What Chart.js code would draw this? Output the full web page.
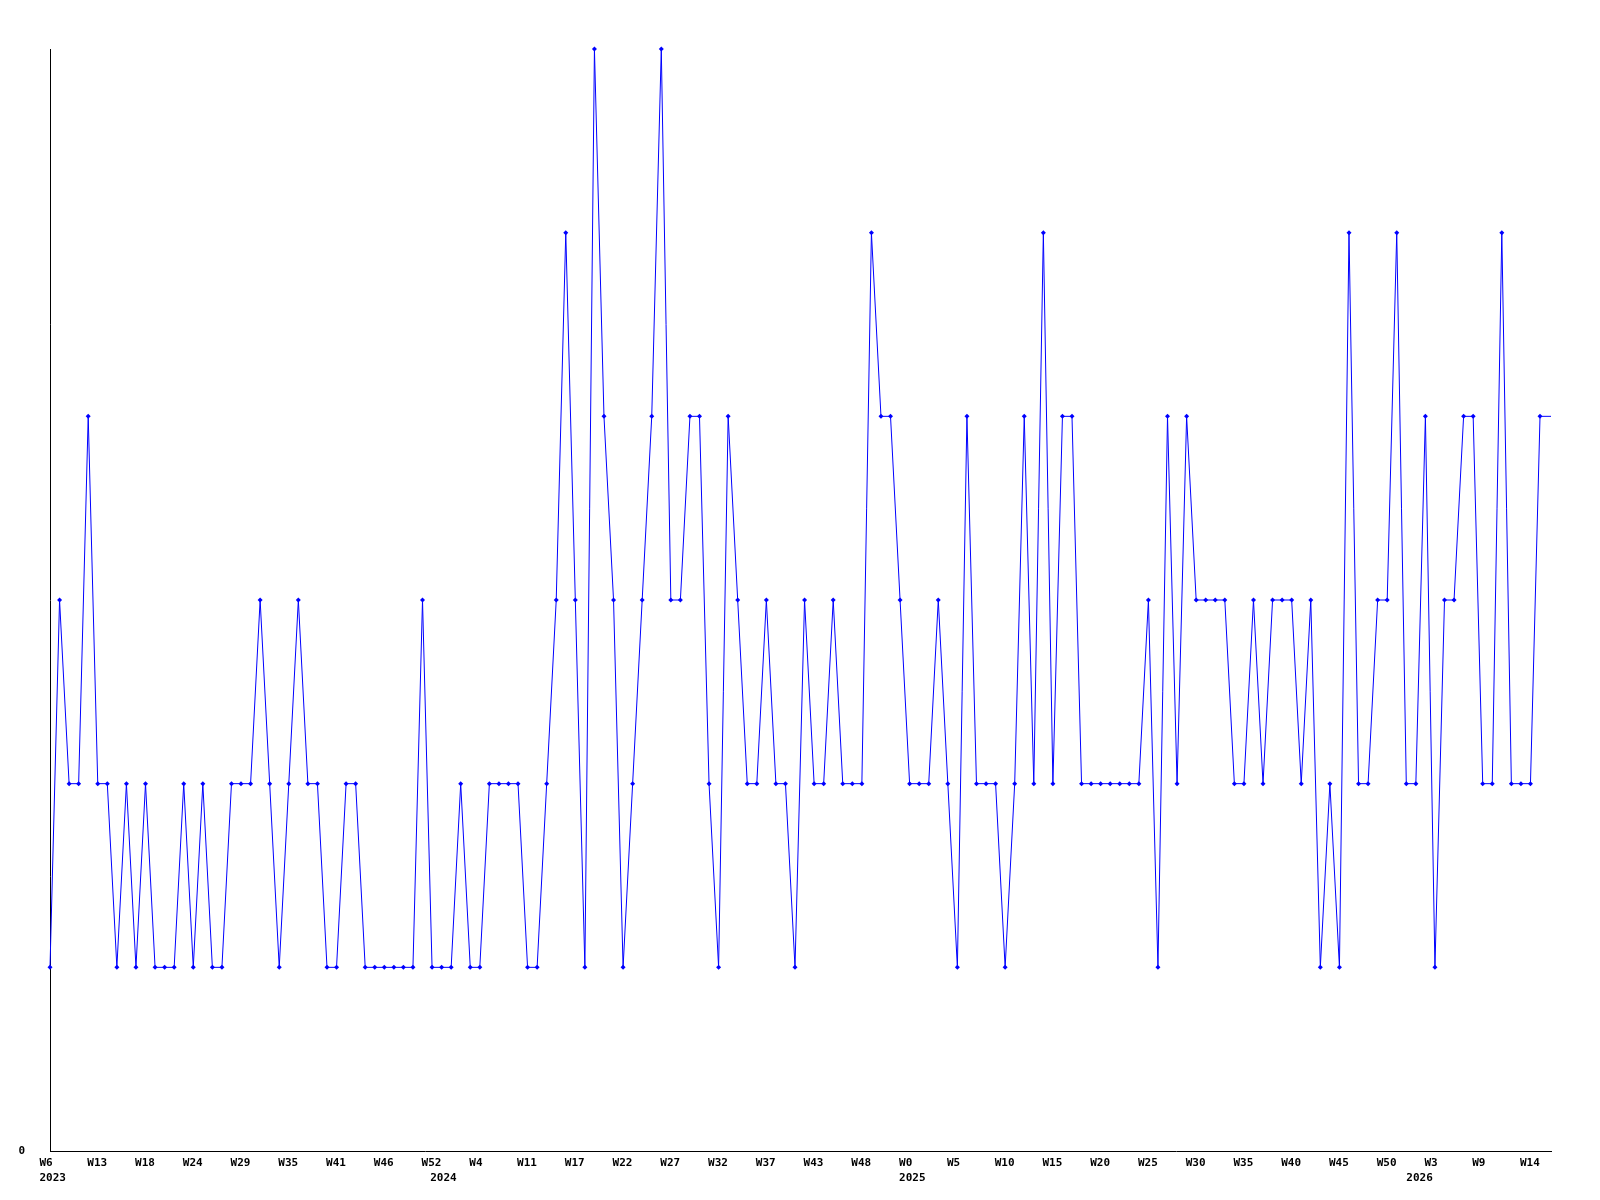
<!DOCTYPE html>
<html>
<head>
<meta charset="utf-8">
<script src="https://cdn.jsdelivr.net/npm/chart.js@4"></script>
<style>
  html, body { margin: 0; padding: 0; background: #fff; }
  #wrap { width: 1600px; height: 1200px; }
</style>
</head>
<body>
<div id="wrap"><canvas id="chart" width="1600" height="1200"></canvas></div>
<script>
// weekly values, one per week starting at W6 2023
const weekValues = [
  1, 3, 2, 2, 4, 2, 2, 1, 2, 1,
  2, 1, 1, 1, 2, 1, 2, 1, 1, 2,
  2, 2, 3, 2, 1, 2, 3, 2, 2, 1,
  1, 2, 2, 1, 1, 1, 1, 1, 1, 3,
  1, 1, 1, 2, 1, 1, 2, 2, 2, 2,
  1, 1, 2, 3, 5, 3, 1, 6, 4, 3,
  1, 2, 3, 4, 6, 3, 3, 4, 4, 2,
  1, 4, 3, 2, 2, 3, 2, 2, 1, 3,
  2, 2, 3, 2, 2, 2, 5, 4, 4, 3,
  2, 2, 2, 3, 2, 1, 4, 2, 2, 2,
  1, 2, 4, 2, 5, 2, 4, 4, 2, 2,
  2, 2, 2, 2, 2, 3, 1, 4, 2, 4,
  3, 3, 3, 3, 2, 2, 3, 2, 3, 3,
  3, 2, 3, 1, 2, 1, 5, 2, 2, 3,
  3, 5, 2, 2, 4, 1, 3, 3, 4, 4,
  2, 2, 5, 2, 2, 2, 4
];

// week tick labels, one every 5 weeks
const weekLabels = ["W6", "W13", "W18", "W24", "W29", "W35", "W41", "W46", "W52", "W4",
  "W11", "W17", "W22", "W27", "W32", "W37", "W43", "W48", "W0", "W5",
  "W10", "W15", "W20", "W25", "W30", "W35", "W40", "W45", "W50", "W3",
  "W9", "W14"];
const weekTickPos = weekLabels.map((_, i) => i * 5);

// year labels and where they start (in weeks from the first point)
const yearLabels = ["2023", "2024", "2025", "2026"];
const yearTickPos = [0, 40.9, 90, 143.1];

// line keeps going flat up to the end of the axis
const axisEnd = 157.15;
const yMax = 6;

const lineData = weekValues.map((v, i) => ({ x: i, y: v }));
lineData.push({ x: axisEnd, y: weekValues[weekValues.length - 1] });

const tickFont = { family: "'DejaVu Sans Mono', monospace", size: 11, weight: "bold" };

new Chart(document.getElementById("chart"), {
  type: "line",
  data: {
    datasets: [{
      data: lineData,
      borderColor: "#0000ff",
      backgroundColor: "#0000ff",
      borderWidth: 1,
      tension: 0,
      fill: false,
      clip: false,
      pointStyle: "rectRot",
      pointRadius: ctx => (ctx.dataIndex >= weekValues.length ? 0 : 2.5),
      pointBorderWidth: 0,
      pointHoverRadius: 0
    }]
  },
  options: {
    responsive: false,
    animation: false,
    devicePixelRatio: 1,
    layout: { padding: { top: 49, left: 0, right: 49, bottom: 10 } },
    plugins: { legend: { display: false }, tooltip: { enabled: false } },
    events: [],
    scales: {
      x: {
        type: "linear",
        position: "bottom",
        min: 0,
        max: axisEnd,
        grid: { display: false, drawTicks: false },
        border: { display: true, color: "#000", width: 1 },
        afterBuildTicks: s => { s.ticks = weekTickPos.map(v => ({ value: v })); },
        afterFit: s => { s.height = 19; s.paddingLeft = 0; s.paddingRight = 0; },
        ticks: {
          autoSkip: false, maxRotation: 0, minRotation: 0,
          align: "start", labelOffset: -10.5, padding: 6,
          color: "#000", font: tickFont,
          callback: (v, i) => weekLabels[i]
        }
      },
      years: {
        type: "linear",
        position: "bottom",
        min: 0,
        max: axisEnd,
        grid: { display: false, drawTicks: false },
        border: { display: false },
        afterBuildTicks: s => { s.ticks = yearTickPos.map(v => ({ value: v })); },
        afterFit: s => { s.height = 20; s.paddingLeft = 0; s.paddingRight = 0; },
        ticks: {
          autoSkip: false, maxRotation: 0, minRotation: 0,
          align: "start", labelOffset: -10.5, padding: 2,
          color: "#000", font: tickFont,
          callback: (v, i) => yearLabels[i]
        }
      },
      y: {
        min: 0,
        max: yMax,
        grid: { display: false, drawTicks: false },
        border: { display: true, color: "#000", width: 1 },
        afterBuildTicks: s => { s.ticks = [{ value: 0 }]; },
        afterFit: s => { s.width = 50; },
        ticks: { padding: 25, color: "#000", font: tickFont, callback: () => "0" }
      }
    }
  }
});
</script>
</body>
</html>
